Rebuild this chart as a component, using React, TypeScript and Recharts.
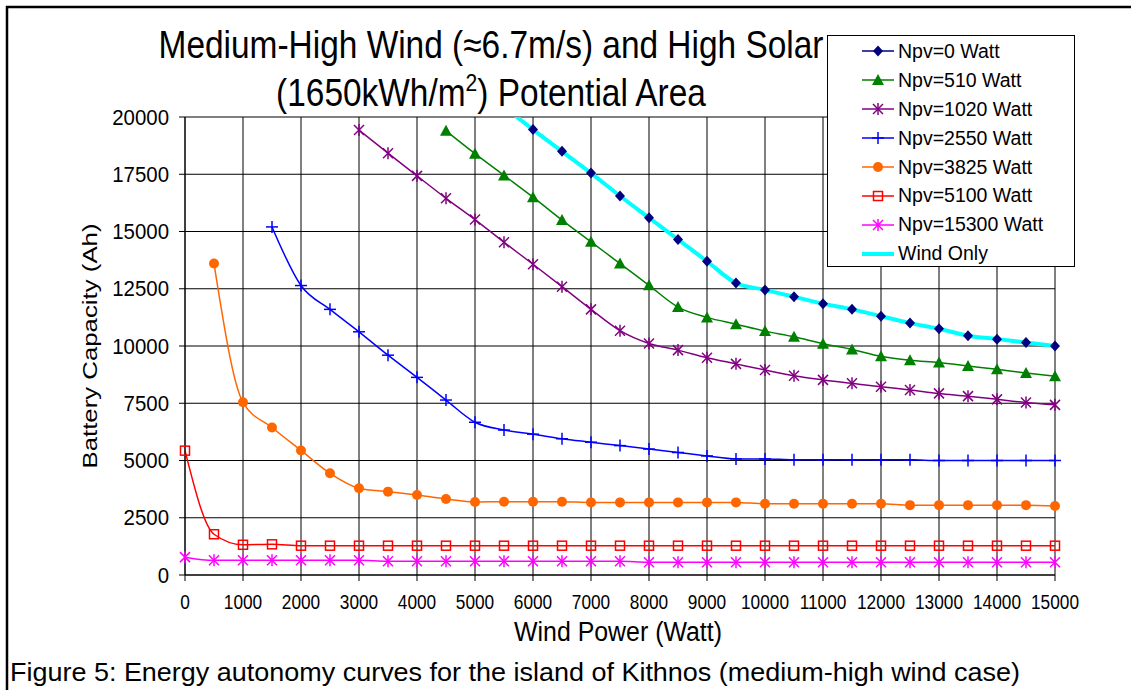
import React from "react";
import { LineChart, Line, XAxis, YAxis, CartesianGrid, Legend } from "recharts";

const FONT = "'Liberation Sans', Arial, Helvetica, sans-serif";

// wind power steps (Watt)
const windPower = [
  0, 500, 1000, 1500, 2000, 2500, 3000, 3500, 4000, 4500, 5000, 5500, 6000, 6500, 7000, 7500,
  8000, 8500, 9000, 9500, 10000, 10500, 11000, 11500, 12000, 12500, 13000, 13500, 14000, 14500, 15000,
];

const xTicks = [0, 1000, 2000, 3000, 4000, 5000, 6000, 7000, 8000, 9000, 10000, 11000, 12000, 13000, 14000, 15000];
const yTicks = [0, 2500, 5000, 7500, 10000, 12500, 15000, 17500, 20000];

// battery capacity (Ah), null = off the chart
const npv0 = [
  null, null, null, null, null, null, null, null, null, null, null, null,
  19450, 18500, 17550, 16550, 15600, 14650, 13700, 12750, 12450, 12150, 11850, 11600, 11300, 11000, 10750, 10450, 10300, 10150, 10000,
];
const npv510 = [
  null, null, null, null, null, null, null, null, null,
  19400, 18400, 17450, 16500, 15500, 14550, 13600, 12650, 11700, 11250, 10950, 10650, 10400, 10100, 9850, 9550, 9380, 9280, 9130, 8980, 8820, 8680,
];
const npv1020 = [
  null, null, null, null, null, null,
  19430, 18420, 17430, 16450, 15520, 14530, 13570, 12590, 11600, 10670, 10110, 9820, 9490, 9220, 8950, 8700, 8520, 8370, 8220, 8080, 7930, 7810, 7670, 7530, 7430,
];
const npv2550 = [
  null, null, null,
  15200, 12640, 11600, 10620, 9600, 8630, 7640, 6670, 6330, 6150, 5950, 5800, 5650, 5500, 5350, 5200, 5070, 5070, 5030, 5030, 5030, 5030, 5030, 5000, 5000, 5000, 5000, 5000,
];
const npv3825 = [
  null,
  13600, 7540, 6440, 5440, 4440, 3790, 3640, 3490, 3320, 3190, 3200, 3200, 3200, 3170, 3170, 3170, 3170, 3170, 3170, 3110, 3110, 3110, 3110, 3110, 3050, 3050, 3050, 3050, 3050, 3010,
];
const npv5100 = [
  5430, 1780, 1320, 1340, 1280, 1280, 1280, 1280, 1280, 1280, 1280, 1280, 1280, 1280, 1280, 1280,
  1280, 1280, 1280, 1280, 1280, 1280, 1280, 1280, 1280, 1280, 1280, 1280, 1280, 1280, 1280,
];
const npv15300 = [
  780, 640, 640, 640, 640, 640, 640, 600, 600, 600, 600, 600, 600, 600, 600, 600,
  560, 560, 560, 560, 560, 560, 560, 560, 560, 560, 560, 560, 560, 560, 560,
];
const windOnly = [
  null, null, null, null, null, null, null, null, null, null,
  21450, 20450, 19450, 18500, 17550, 16550, 15600, 14650, 13700, 12750, 12450, 12150, 11850, 11600, 11300, 11000, 10750, 10450, 10300, 10150, 10000,
];

type MarkerKind = "diamond" | "triangle" | "asterisk" | "plus" | "circle" | "square" | "none";

const legendItems: { name: string; color: string; marker: MarkerKind; width: number }[] = [
  { name: "Npv=0 Watt", color: "#000080", marker: "diamond", width: 1.5 },
  { name: "Npv=510 Watt", color: "#008000", marker: "triangle", width: 1.5 },
  { name: "Npv=1020 Watt", color: "#800080", marker: "asterisk", width: 1.5 },
  { name: "Npv=2550 Watt", color: "#0000FF", marker: "plus", width: 1.5 },
  { name: "Npv=3825 Watt", color: "#FF6600", marker: "circle", width: 1.5 },
  { name: "Npv=5100 Watt", color: "#FF0000", marker: "square", width: 1.5 },
  { name: "Npv=15300 Watt", color: "#FF00FF", marker: "asterisk", width: 1.5 },
  { name: "Wind Only", color: "#00FFFF", marker: "none", width: 4 },
];

const chartData = windPower.map((w, i) => ({
  wind: w,
  npv0: npv0[i],
  npv510: npv510[i],
  npv1020: npv1020[i],
  npv2550: npv2550[i],
  npv3825: npv3825[i],
  npv5100: npv5100[i],
  npv15300: npv15300[i],
  windOnly: windOnly[i],
}));

function Marker({ kind, color, cx, cy }: { kind: MarkerKind; color: string; cx: number; cy: number }) {
  switch (kind) {
    case "diamond":
      return <path d={`M${cx},${cy - 5.5}L${cx + 5},${cy}L${cx},${cy + 5.5}L${cx - 5},${cy}Z`} fill={color} />;
    case "triangle":
      return <path d={`M${cx},${cy - 6}L${cx + 6},${cy + 5}L${cx - 6},${cy + 5}Z`} fill={color} />;
    case "asterisk":
      return (
        <g stroke={color} strokeWidth={1.5}>
          <line x1={cx - 5} y1={cy - 5} x2={cx + 5} y2={cy + 5} />
          <line x1={cx - 5} y1={cy + 5} x2={cx + 5} y2={cy - 5} />
          <line x1={cx} y1={cy - 6} x2={cx} y2={cy + 6} />
        </g>
      );
    case "plus":
      return (
        <g stroke={color} strokeWidth={1.5}>
          <line x1={cx - 6} y1={cy} x2={cx + 6} y2={cy} />
          <line x1={cx} y1={cy - 6} x2={cx} y2={cy + 6} />
        </g>
      );
    case "circle":
      return <circle cx={cx} cy={cy} r={5} fill={color} />;
    case "square":
      return <rect x={cx - 4.5} y={cy - 4.5} width={9} height={9} fill="none" stroke={color} strokeWidth={1.5} />;
    default:
      return null;
  }
}

const makeDot = (kind: MarkerKind, color: string) => (props: any) => {
  const { cx, cy, index } = props;
  if (cx == null || cy == null || Number.isNaN(cy) || props.value == null) {
    return <g key={`${kind}-${color}-${index}`} />;
  }
  return (
    <g key={`${kind}-${color}-${index}`}>
      <Marker kind={kind} color={color} cx={cx} cy={cy} />
    </g>
  );
};

const renderLegend = () => (
  <div
    style={{
      position: "relative",
      width: 246,
      height: 230,
      border: "1px solid #000",
      background: "#fff",
      fontFamily: FONT,
      fontSize: 19.5,
      color: "#000",
    }}
  >
    {legendItems.map((s, i) => (
      <div
        key={s.name}
        style={{
          position: "absolute",
          left: 0,
          top: 1 + i * 28.9,
          height: 28.9,
          display: "flex",
          alignItems: "center",
          whiteSpace: "nowrap",
        }}
      >
        <svg width={70} height={28} style={{ display: "block" }}>
          <line x1={34} x2={66} y1={14} y2={14} stroke={s.color} strokeWidth={s.width} />
          <Marker kind={s.marker} color={s.color} cx={50} cy={14} />
        </svg>
        <span>{s.name}</span>
      </div>
    ))}
  </div>
);

const XTick = (props: any) => {
  const { x, y, payload } = props;
  return (
    <g transform={`translate(${x},${y})`}>
      <text x={0} y={26} textAnchor="middle" fontSize={19.5} fontFamily={FONT} fill="#000" transform="scale(0.885,1)">
        {payload.value}
      </text>
    </g>
  );
};

const YTick = (props: any) => {
  const { x, y, payload } = props;
  return (
    <g transform={`translate(${x},${y})`}>
      <text x={0} y={7.7} textAnchor="end" fontSize={21.5} fontFamily={FONT} fill="#000" transform="scale(0.95,1)">
        {payload.value}
      </text>
    </g>
  );
};

const YTitle = (props: any) => {
  const vb = props.viewBox || { x: 85, y: 117, width: 100, height: 458 };
  const cx = vb.x + 12;
  const cy = vb.y + vb.height / 2;
  return (
    <text
      x={0}
      y={0}
      transform={`translate(${cx},${cy}) rotate(-90)`}
      textAnchor="middle"
      fontSize={21}
      fontFamily={FONT}
      fill="#000"
      textLength={245}
      lengthAdjust="spacingAndGlyphs"
    >
      Battery Capacity (Ah)
    </text>
  );
};

const XTitle = (props: any) => {
  const vb = props.viewBox || { x: 185, y: 575, width: 870, height: 50 };
  return (
    <text
      x={vb.x + vb.width / 2 - 2}
      y={vb.y + 66}
      textAnchor="middle"
      fontSize={27}
      fontFamily={FONT}
      fill="#000"
      textLength={208}
      lengthAdjust="spacingAndGlyphs"
    >
      Wind Power (Watt)
    </text>
  );
};

export default function App() {
  return (
    <div style={{ position: "absolute", left: 0, top: 0, width: 1131, height: 690, background: "#fff", overflow: "hidden" }}>
      <svg width={1131} height={690} style={{ position: "absolute", left: 0, top: 0 }}>
        <line x1={6} y1={7} x2={1131} y2={7} stroke="#000" strokeWidth={2.5} />
        <line x1={7} y1={6} x2={7} y2={690} stroke="#000" strokeWidth={2.5} />
        <g transform="translate(491,0) scale(0.88,1)" fontFamily={FONT} fontSize={38} fill="#000">
          <text x={0} y={58} textAnchor="middle">
            Medium-High Wind (≈6.7m/s) and High Solar
          </text>
          <text x={0} y={106} textAnchor="middle">
            <tspan>(1650kWh/m</tspan>
            <tspan fontSize={24} dy={-15}>2</tspan>
            <tspan dy={15}>) Potential Area</tspan>
          </text>
        </g>
        <text
          x={10}
          y={681}
          fontSize={26}
          fontFamily={FONT}
          fill="#000"
          textLength={1010}
          lengthAdjust="spacingAndGlyphs"
        >
          Figure 5: Energy autonomy curves for the island of Kithnos (medium-high wind case)
        </text>
      </svg>
      <div style={{ position: "absolute", left: 0, top: 0 }}>
        <LineChart width={1131} height={690} data={chartData} margin={{ top: 117, right: 76, left: 85, bottom: 65 }}>
          <CartesianGrid stroke="#000" strokeWidth={1} />
          <XAxis
            dataKey="wind"
            type="number"
            domain={[0, 15000]}
            ticks={xTicks}
            interval={0}
            height={50}
            tickSize={6}
            tickMargin={2}
            axisLine={{ stroke: "#000" }}
            tickLine={{ stroke: "#000" }}
            tick={<XTick />}
            label={<XTitle />}
          />
          <YAxis
            type="number"
            domain={[0, 20000]}
            allowDataOverflow
            ticks={yTicks}
            interval={0}
            width={100}
            tickSize={6}
            tickMargin={10}
            axisLine={{ stroke: "#000" }}
            tickLine={{ stroke: "#000" }}
            tick={<YTick />}
            label={<YTitle />}
          />
          <Legend
            layout="vertical"
            align="center"
            verticalAlign="middle"
            content={renderLegend}
            wrapperStyle={{ left: 827, top: 35, width: 248, height: 232 }}
          />
          <Line type="monotone" dataKey="npv0" stroke="#000080" strokeWidth={1.5} dot={false} activeDot={false} isAnimationActive={false} />
          <Line type="monotone" dataKey="windOnly" stroke="#00FFFF" strokeWidth={4} dot={false} activeDot={false} isAnimationActive={false} />
          <Line type="monotone" dataKey="npv0" stroke="none" dot={makeDot("diamond", "#000080")} activeDot={false} isAnimationActive={false} />
          <Line type="monotone" dataKey="npv510" stroke="#008000" strokeWidth={1.5} dot={makeDot("triangle", "#008000")} activeDot={false} isAnimationActive={false} />
          <Line type="monotone" dataKey="npv1020" stroke="#800080" strokeWidth={1.5} dot={makeDot("asterisk", "#800080")} activeDot={false} isAnimationActive={false} />
          <Line type="monotone" dataKey="npv2550" stroke="#0000FF" strokeWidth={1.5} dot={makeDot("plus", "#0000FF")} activeDot={false} isAnimationActive={false} />
          <Line type="monotone" dataKey="npv3825" stroke="#FF6600" strokeWidth={1.5} dot={makeDot("circle", "#FF6600")} activeDot={false} isAnimationActive={false} />
          <Line type="monotone" dataKey="npv5100" stroke="#FF0000" strokeWidth={1.5} dot={makeDot("square", "#FF0000")} activeDot={false} isAnimationActive={false} />
          <Line type="monotone" dataKey="npv15300" stroke="#FF00FF" strokeWidth={1.5} dot={makeDot("asterisk", "#FF00FF")} activeDot={false} isAnimationActive={false} />
        </LineChart>
      </div>
    </div>
  );
}
